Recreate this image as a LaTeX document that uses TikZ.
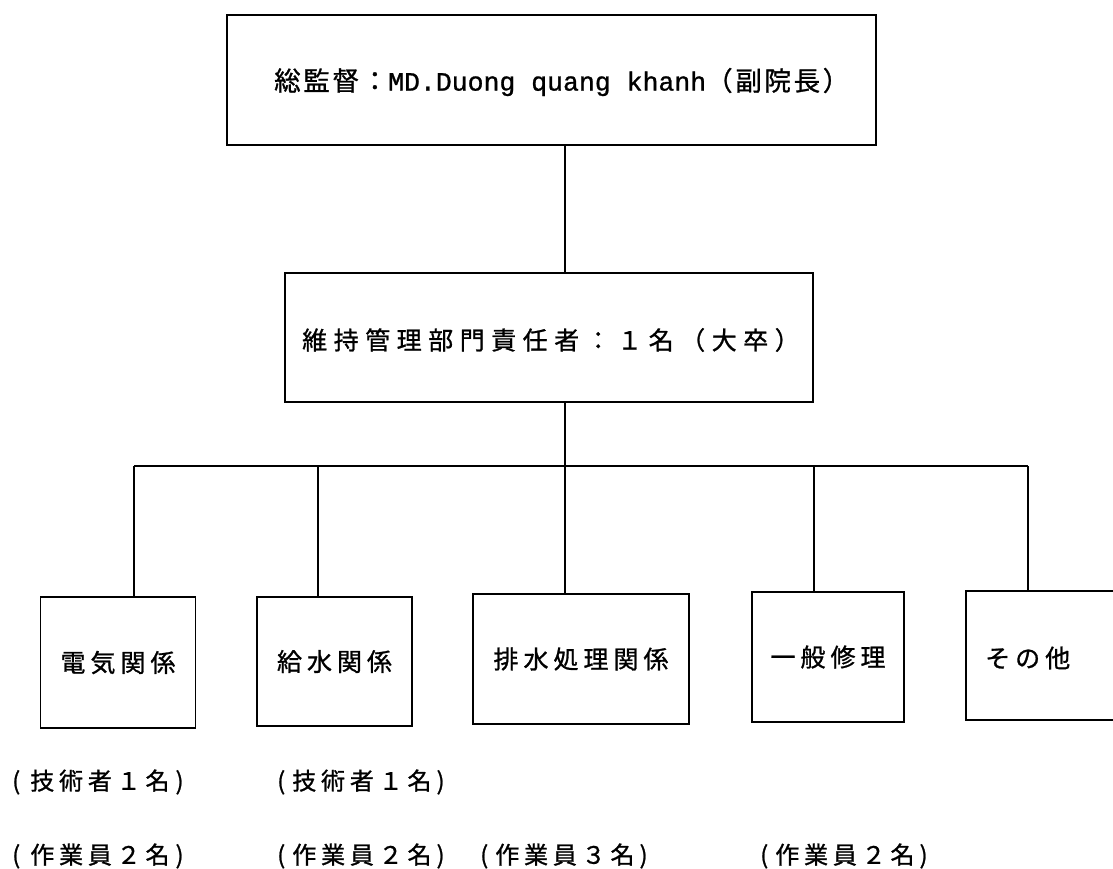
\documentclass[tikz,border=0pt]{standalone}
\usepackage{fontspec}
\setmainfont{Noto Sans CJK JP}
\newfontfamily\jpA[LetterSpace=10,FakeBold=1]{Noto Sans CJK JP}
\newfontfamily\jpB[LetterSpace=20,FakeBold=1]{Noto Sans CJK JP}
\newfontfamily\jpC[LetterSpace=20,FakeBold=1]{Noto Sans CJK JP}
\newfontfamily\jpD[LetterSpace=26,FakeBold=1]{Noto Sans CJK JP}
\newfontfamily\latm[FakeBold=1]{Liberation Mono}
\begin{document}
\begin{tikzpicture}[x=1pt,y=-1pt,
  box/.style={draw, line width=1.9pt, rectangle, inner sep=0pt},
  wire/.style={line width=1.7pt},
  txt/.style={inner sep=0pt, anchor=west},
  boxtext/.style={font=\jpB\fontsize{25}{30}\selectfont},
  lbl/.style={inner sep=0pt, anchor=west, font=\jpC\fontsize{24}{28}\selectfont}
]
\useasboundingbox (0,0) rectangle (1113,868);
% top
\node[box, minimum width=649pt, minimum height=130pt] (top) at (551.5,80) {};
\node[txt, font=\jpA\fontsize{26.5}{30}\selectfont] (toptext) at (274,82)
  {総監督：{\latm\fontsize{26.5}{30}\selectfont MD.Duong quang khanh}（副院長）};
% middle
\node[box, minimum width=528pt, minimum height=129pt] (mid) at (549,337.5) {};
\node[txt, font=\jpD\fontsize{25}{30}\selectfont] (midtext) at (302,340)
  {維持管理部門責任者：１名（大卒）};
% bottom boxes
\node[box, boxtext, minimum width=155pt, minimum height=131pt] (b1) at (118,662.5) {電気関係};
\node[box, boxtext, minimum width=155pt, minimum height=129pt] (b2) at (334.5,661.5) {給水関係};
\node[box, boxtext, minimum width=216pt, minimum height=130pt] (b3) at (581,659) {排水処理関係};
\node[box, boxtext, minimum width=152pt, minimum height=130pt] (b4) at (828,657) {一般修理};
\node[box, minimum width=150pt, minimum height=129pt] (b5) at (1041,655.5) {};
\node[txt, boxtext] (t5) at (985,658) {その他};
% connectors
\coordinate (j) at (565,466);
\coordinate (busL) at (134,466);
\coordinate (busR) at (1028,466);
\coordinate (d2) at (318,466);
\coordinate (d4) at (814,466);
\draw[wire] (top.south -| j) -- (mid.north -| j);
\draw[wire] (mid.south -| j) -- (j);
\draw[wire] (busL) -- (busR);
\draw[wire] (busL) -- (busL |- b1.north);
\draw[wire] (d2) -- (d2 |- b2.north);
\draw[wire] (j) -- (j |- b3.north);
\draw[wire] (d4) -- (d4 |- b4.north);
\draw[wire] (busR) -- (busR |- b5.north);
% labels
\node[lbl] (l1a) at (12,782) {(\hspace{10pt}技術者１名\hspace{6pt})};
\node[lbl] (l1b) at (277,782) {(\hspace{7pt}技術者１名\hspace{5pt})};
\node[lbl] (l2a) at (12,856) {(\hspace{10pt}作業員２名\hspace{6pt})};
\node[lbl] (l2b) at (277,856) {(\hspace{7pt}作業員２名\hspace{5pt})};
\node[lbl] (l2c) at (480,856) {(\hspace{7pt}作業員３名\hspace{5pt})};
\node[lbl] (l2d) at (760,856) {(\hspace{7pt}作業員２名\hspace{5pt})};
\end{tikzpicture}
\end{document}
